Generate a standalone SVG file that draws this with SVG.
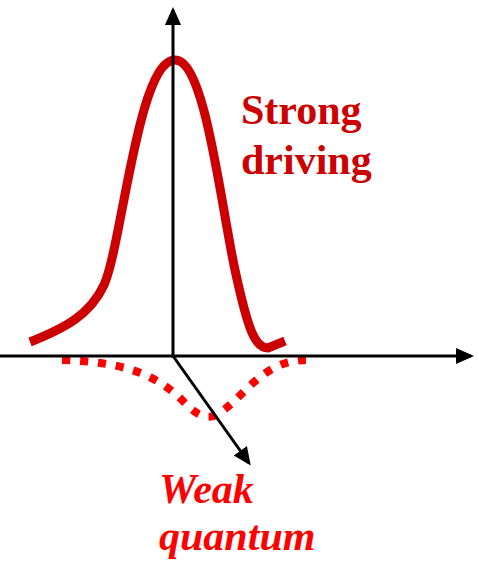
<svg xmlns="http://www.w3.org/2000/svg" width="479" height="561" viewBox="0 0 479 561">
<defs>
<marker id="ah" markerWidth="6" markerHeight="6" refX="5" refY="3" orient="auto" markerUnits="strokeWidth"><path d="M0,0.3 L6,3 L0,5.7 Z" fill="#000"/></marker>
<style>
.ax{stroke:#000;stroke-width:3;fill:none}
.lbl{font-family:"Liberation Serif",serif;font-weight:bold;font-size:42px}
</style>
</defs>
<rect width="479" height="561" fill="#fff"/>
<g id="curves">
<path id="strong-curve" d="M30,342 C65,328 90,315 104,285 C122,245 138,60 175,60 C205,60 220,200 235,270 C248,330 255,348 268,348 L285,341" fill="none" stroke="#cc0000" stroke-width="9"/>
<path id="weak-curve" d="M62,360 C120,362 150,372 178,396 C190,408 200,420 214,416 C243,402 260,358 310,360" fill="none" stroke="#ff0000" stroke-width="8" stroke-dasharray="8 10"/>
</g>
<g id="axes">
<line class="ax" x1="173" y1="358" x2="173" y2="10" marker-end="url(#ah)"/>
<line class="ax" x1="0" y1="356" x2="471" y2="356" marker-end="url(#ah)"/>
<line class="ax" x1="173" y1="356" x2="249" y2="463" marker-end="url(#ah)"/>
</g>
<g id="label-strong">
<text class="lbl" x="241" y="124" fill="#cc0000">Strong</text>
<text class="lbl" x="241" y="174" fill="#cc0000">driving</text>
</g>
<g id="label-weak">
<text class="lbl" x="159" y="503" fill="#ff0000" font-style="italic">Weak</text>
<text class="lbl" x="159" y="550" fill="#ff0000" font-style="italic">quantum</text>
</g>
</svg>
